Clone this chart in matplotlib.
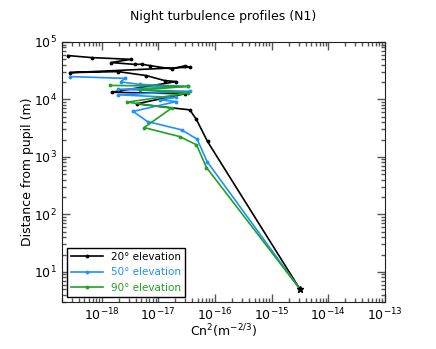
import numpy as np
import matplotlib
matplotlib.use('Agg')
import matplotlib.pyplot as plt

# Cn2 (m^-2/3) and distance from pupil (m), read top -> bottom
cn2_20 = [2.55e-19, 6.7e-19, 3.3e-18, 1.46e-18, 3.86e-18, 5.07e-18, 7.1e-18, 1.72e-17, 2.94e-17, 3.6e-17,
          2.76e-19, 1.96e-18, 6.2e-18, 1.3e-17, 2.1e-17, 1.5e-18, 2.94e-17, 4.14e-18, 3.6e-17, 4.7e-17,
          7.4e-17, 3.16e-15]
dist_20 = [5.78e4, 5.33e4, 4.97e4, 4.37e4, 4.06e4, 4.09e4, 3.87e4, 3.39e4, 3.83e4, 3.63e4,
           2.92e4, 3.04e4, 2.59e4, 2.12e4, 2.04e4, 1.33e4, 1.25e4, 8.35e3, 6.57e3, 4.5e3,
           1.85e3, 5.0]

cn2_50 = [2.76e-19, 2.58e-18, 2.19e-18, 4.73e-18, 3.33e-17, 1.94e-18, 3.6e-17, 1.94e-18, 2.04e-17,
          1.07e-17, 2.1e-17, 3.6e-18, 6.47e-18, 2.58e-17, 4.85e-17, 7.28e-17, 3.16e-15]
dist_50 = [2.49e4, 2.32e4, 2.01e4, 1.82e4, 1.68e4, 1.49e4, 1.38e4, 1.2e4, 1.08e4,
           9.8e3, 9.16e3, 6.18e3, 4.11e3, 2.95e3, 2.03e3, 828, 5.0]

cn2_90 = [1.4e-18, 3.33e-17, 4.73e-18, 3.33e-17, 2.83e-18, 1.72e-17, 5.63e-18, 2.4e-17, 4.73e-17,
          7.1e-17, 3.16e-15]
dist_90 = [1.75e4, 1.68e4, 1.46e4, 1.28e4, 8.94e3, 7.03e3, 3.23e3, 2.25e3, 1.62e3, 652, 5.0]

series = [('20° elevation', cn2_20, dist_20, 'black'),
          ('50° elevation', cn2_50, dist_50, '#1e90ff'),
          ('90° elevation', cn2_90, dist_90, '#22a022')]

fig = plt.figure(figsize=(4.36, 3.49), dpi=100)
ax = fig.add_axes([0.142, 0.135, 0.741, 0.745])

for label, x, y, c in series:
    ax.plot(x, y, color=c, lw=1.2, marker='.', ms=3.5, label=label)
# ground point marker
ax.plot(cn2_20[-1], dist_20[-1], marker='*', color='black', ms=5, ls='none')

ax.set_xscale('log')
ax.set_yscale('log')
ax.set_xlim(2e-19, 1e-13)
ax.set_ylim(3, 1e5)
ax.set_xticks([1e-18, 1e-17, 1e-16, 1e-15, 1e-14, 1e-13])
ax.set_yticks([1e1, 1e2, 1e3, 1e4, 1e5])

ax.tick_params(which='both', direction='in', top=True, right=True, labelsize=9, color='#555555')
ax.tick_params(which='major', length=6, width=1)
ax.tick_params(which='minor', length=3, width=1)
for s in ax.spines.values():
    s.set_color('#222222')

ax.set_title('Night turbulence profiles (N1)', fontsize=9, pad=16)
ax.set_xlabel('Cn$^2$(m$^{-2/3}$)', fontsize=9, labelpad=-1)
ax.set_ylabel('Distance from pupil (m)', fontsize=9, labelpad=0)

leg = ax.legend(loc='lower left', fontsize=7.5, fancybox=False, edgecolor='black',
                handlelength=3, borderaxespad=0.5, framealpha=1)
for t, (_, _, _, c) in zip(leg.get_texts(), series):
    t.set_color(c)

fig.savefig('out.png', dpi=100)
